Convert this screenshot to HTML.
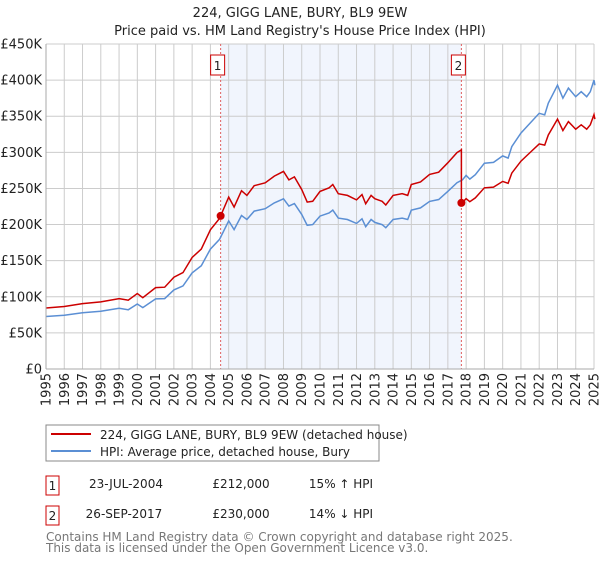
<!DOCTYPE html>
<html><head><meta charset="utf-8"><style>
body{margin:0;background:#fff;font-family:"Liberation Sans","DejaVu Sans",sans-serif;}
svg text{font-family:"DejaVu Sans","Liberation Sans",sans-serif;}
</style></head><body>
<svg id="chart" width="600" height="560" viewBox="0 0 600 560" xmlns="http://www.w3.org/2000/svg">
<text x="300" y="17" text-anchor="middle" font-size="13" fill="#222">224, GIGG LANE, BURY, BL9 9EW</text>
<text x="300" y="35" text-anchor="middle" font-size="13" fill="#222">Price paid vs. HM Land Registry's House Price Index (HPI)</text>
<g id="plot"></g>
<g>
<rect x="46" y="425" width="333" height="36" fill="#fff" stroke="#888"/>
<line x1="51" y1="434" x2="91" y2="434" stroke="#cc0000" stroke-width="2"/>
<text x="100" y="439" font-size="12" fill="#222">224, GIGG LANE, BURY, BL9 9EW (detached house)</text>
<line x1="51" y1="451" x2="91" y2="451" stroke="#5b8fd4" stroke-width="2"/>
<text x="100" y="456" font-size="12" fill="#222">HPI: Average price, detached house, Bury</text>
</g>
<g font-size="12" fill="#222">
<rect x="46" y="476" width="13" height="19" fill="#fff" stroke="#cc0000"/>
<text x="52.5" y="490" text-anchor="middle">1</text>
<text x="126" y="488" text-anchor="middle">23-JUL-2004</text>
<text x="241" y="488" text-anchor="middle">£212,000</text>
<text x="341" y="488" text-anchor="middle">15% ↑ HPI</text>
<rect x="46" y="506" width="13" height="19" fill="#fff" stroke="#cc0000"/>
<text x="52.5" y="520" text-anchor="middle">2</text>
<text x="124" y="518" text-anchor="middle">26-SEP-2017</text>
<text x="241" y="518" text-anchor="middle">£230,000</text>
<text x="341" y="518" text-anchor="middle">14% ↓ HPI</text>
</g>
<text x="46" y="541" font-size="12" fill="#777">Contains HM Land Registry data © Crown copyright and database right 2025.</text>
<text x="46" y="552" font-size="12" fill="#777">This data is licensed under the Open Government Licence v3.0.</text>
</svg>
<script>
const hpiTimes=[1995,1996,1997,1998,1999,1999.5,2000,2000.3,2001,2001.5,2002,2002.5,2003,2003.5,2004,2004.5,2005,2005.3,2005.7,2006,2006.4,2007,2007.5,2008,2008.3,2008.6,2009,2009.3,2009.6,2010,2010.5,2010.7,2011,2011.5,2012,2012.3,2012.5,2012.8,2013,2013.4,2013.6,2014,2014.5,2014.8,2015,2015.5,2016,2016.5,2017,2017.5,2017.8,2018,2018.2,2018.5,2019,2019.5,2020,2020.3,2020.5,2021,2021.5,2022,2022.3,2022.5,2023,2023.3,2023.6,2024,2024.3,2024.6,2024.8,2025,2025.05];
const hpiValues=[72.7,74.5,78,80,84,82,90,85,97,97.5,109.5,115,133,143,166,179.5,205,193,212.6,207,218.6,222,230,235.6,225.5,229,214,199,200,211.7,216,220,209,207,201.6,208,197,207,203,200,195.6,207,209,207,220,223,232,234.7,246,258,262,268,263,269,285,286,295,292,308,326.7,340.5,354,352,368,393,375,389,377,384,377,384,400,393];
const saleTimes=[2004.56,2017.74];
const salePrices=[212,230];
const saleLabels=["1","2"];
const yTicks=[0,50,100,150,200,250,300,350,400,450];
const yTickLabels=["£0","£50K","£100K","£150K","£200K","£250K","£300K","£350K","£400K","£450K"];
const xYears=[1995,1996,1997,1998,1999,2000,2001,2002,2003,2004,2005,2006,2007,2008,2009,2010,2011,2012,2013,2014,2015,2016,2017,2018,2019,2020,2021,2022,2023,2024,2025];

const L=46,R=594,T=44,B=369;
const xS=t=>L+(t-1995)/30*(R-L);
const yS=v=>B-v/450*(B-T);
const NS="http://www.w3.org/2000/svg";
const g=document.getElementById('plot');
function mk(tag,at){const e=document.createElementNS(NS,tag);for(const k in at)e.setAttribute(k,at[k]);g.appendChild(e);return e;}
function hpiAt(t){for(let i=0;i<hpiTimes.length-1;i++){if(t>=hpiTimes[i]&&t<=hpiTimes[i+1]){const f=(t-hpiTimes[i])/(hpiTimes[i+1]-hpiTimes[i]);return hpiValues[i]+f*(hpiValues[i+1]-hpiValues[i]);}}return hpiValues[hpiValues.length-1];}

const shade=mk('rect',{x:xS(saleTimes[0]),y:T,width:xS(saleTimes[1])-xS(saleTimes[0]),height:B-T,fill:'#eef3fd',opacity:0.8});


yTicks.forEach((v,i)=>{
  const ln=mk('line',{x1:L,x2:R,y1:yS(v),y2:yS(v),stroke:'#ccc','stroke-width':1});
  
  
  const tx=mk('text',{x:L-4,y:yS(v)+4.5,'text-anchor':'end','font-size':13,fill:'#222'});
  tx.textContent=yTickLabels[i];
  
  
});
xYears.forEach(yr=>{
  const ln=mk('line',{x1:xS(yr),x2:xS(yr),y1:T,y2:B,stroke:'#ccc','stroke-width':1});
  
  
  const x=xS(yr)+4.5,y=373;
  const tx=mk('text',{x:x,y:y,'text-anchor':'end','font-size':13,fill:'#222',transform:`rotate(-90 ${x} ${y})`});
  tx.textContent=yr;
  
  
});
saleTimes.forEach((t,i)=>{
  const ln=mk('line',{x1:xS(t),x2:xS(t),y1:T,y2:B,stroke:'#e06060','stroke-width':1,'stroke-dasharray':'2,2'});
  
  
  const bx=mk('rect',{x:xS(t)-10,y:55,width:14,height:20,fill:'#fff',stroke:'#cc0000'});
  
  
  const tx=mk('text',{x:xS(t)-3,y:70,'text-anchor':'middle','font-size':12,fill:'#222'});
  tx.textContent=saleLabels[i];
  
  
});
let d=hpiTimes.map((t,i)=>(i?'L':'M')+xS(t).toFixed(1)+','+yS(hpiValues[i]).toFixed(1)).join('');
const hl=mk('path',{d:d,fill:'none',stroke:'#5b8fd4','stroke-width':1.5});


const r1=salePrices[0]/hpiAt(saleTimes[0]),r2=salePrices[1]/hpiAt(saleTimes[1]);
let pts=[];
hpiTimes.forEach((t,i)=>{if(t<saleTimes[1])pts.push([t,hpiValues[i]*r1]);});
pts.push([saleTimes[1],hpiAt(saleTimes[1])*r1]);
pts.push([saleTimes[1],salePrices[1]]);
hpiTimes.forEach((t,i)=>{if(t>saleTimes[1])pts.push([t,hpiValues[i]*r2]);});
d=pts.map((p,i)=>(i?'L':'M')+xS(p[0]).toFixed(1)+','+yS(p[1]).toFixed(1)).join('');
const pl=mk('path',{d:d,fill:'none',stroke:'#cc0000','stroke-width':1.5});


saleTimes.forEach((t,i)=>{
  const c=mk('circle',{cx:xS(t),cy:yS(salePrices[i]),r:4,fill:'#cc0000'});
  
  
});
mk('line',{x1:L,x2:L,y1:T,y2:B,stroke:'#aaa'});
mk('line',{x1:L,x2:R,y1:B,y2:B,stroke:'#aaa'});
</script>
</body></html>
